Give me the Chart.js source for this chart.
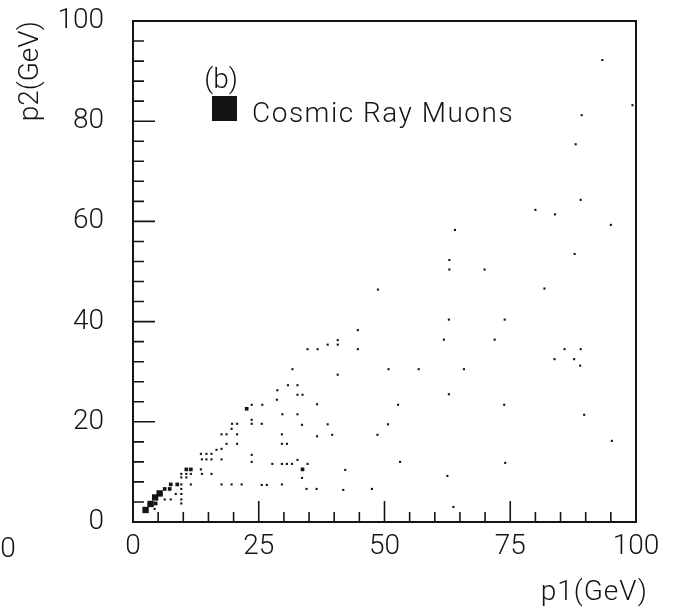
<!DOCTYPE html>
<html>
<head>
<meta charset="utf-8">
<script src="https://cdn.jsdelivr.net/npm/chart.js@4.4.1/dist/chart.umd.min.js"></script>
<style>
  html, body { margin: 0; padding: 0; background: #fff; }
  #wrap { width: 675px; height: 611px; }
</style>
</head>
<body>
<div id="wrap"><canvas id="muonChart"></canvas></div>
<script>
// p1 / p2 pairs, split by how heavy the box is
const heavyP1 = [2.5, 3.5, 4.4, 5.3];
const heavyP2 = [2.4, 3.6, 4.9, 5.7];

const mediumP1 = [3.3, 4.5, 6.3, 7.3, 7.5, 8.8, 10.6, 11.5, 22.6, 33.7];
const mediumP2 = [3.5, 3.7, 6.6, 6.6, 7.5, 7.5, 10.5, 10.5, 22.6, 10.5];

const lightP1 = [
  4.3, 6.3, 7.5, 9.6, 9.6, 8.5, 9.6, 9.6, 9.6, 11.5, 17.6, 19.6, 21.6, 25.6, 26.6, 29.6,
  34.5, 36.5, 33.6, 9.6, 10.6, 9.6, 10.6, 11.5, 13.7, 15.6, 13.5, 27.7, 29.6, 30.6, 31.6,
  32.7, 34.7, 23.6, 23.6, 13.7, 14.6, 15.6, 17.6, 13.5, 14.6, 15.6, 16.6, 17.6, 18.6, 20.7,
  29.6, 30.6, 17.6, 18.6, 20.7, 29.6, 36.6, 19.6, 19.7, 20.7, 23.6, 25.6, 33.6, 23.6, 29.7,
  32.7, 23.6, 25.7, 36.6, 28.6, 32.7, 33.7, 28.7, 30.8, 32.7, 31.7, 40.7, 34.7, 36.7, 38.7,
  40.7, 44.7, 40.7, 44.7, 52.7, 73.8, 38.7, 50.7, 39.6, 48.6, 62.8, 50.8, 56.8, 65.8, 83.8,
  87.7, 88.9, 85.8, 89.0, 61.8, 71.9, 62.8, 73.9, 48.7, 81.8, 62.9, 69.9, 62.9, 87.8, 64.0,
  95.0, 80.0, 83.9, 89.0, 88.0, 89.2, 99.3, 93.3, 89.7, 53.1, 62.5, 47.5, 42.2, 63.7, 95.2,
  74.0, 41.8
];
const lightP2 = [
  2.6, 4.5, 4.5, 4.5, 3.7, 5.6, 6.6, 5.6, 7.5, 7.5, 7.5, 7.5, 7.5, 7.4, 7.4, 7.5,
  6.6, 6.6, 8.8, 8.9, 8.9, 9.6, 9.6, 9.6, 9.6, 9.6, 10.5, 11.6, 11.6, 11.6, 11.6,
  12.4, 11.6, 13.4, 12.0, 12.5, 12.5, 12.5, 12.5, 13.6, 13.6, 13.6, 14.4, 14.6, 15.6, 15.6,
  15.6, 15.6, 17.5, 17.5, 17.5, 17.5, 17.1, 18.6, 19.6, 19.6, 19.6, 19.6, 19.4, 20.4, 21.5,
  21.5, 23.4, 23.4, 23.5, 24.4, 25.4, 25.4, 26.3, 27.3, 27.3, 30.5, 29.4, 34.5, 34.5, 35.4,
  35.4, 34.5, 36.3, 38.3, 23.4, 23.4, 19.5, 19.5, 17.4, 17.4, 25.5, 30.5, 30.5, 30.5, 32.5,
  32.5, 31.2, 34.5, 34.5, 36.4, 36.4, 40.4, 40.4, 46.4, 46.6, 50.4, 50.4, 52.3, 53.5, 58.3,
  59.3, 62.3, 61.4, 64.3, 75.4, 81.2, 83.2, 92.2, 21.4, 12.0, 9.2, 6.6, 10.4, 3.0, 16.2,
  11.8, 6.4
];

const xTickLabels = [0, 25, 50, 75, 100];
const yTickLabels = [0, 20, 40, 60, 80, 100];

const toPoints = (xs, ys) => xs.map((v, i) => ({ x: v, y: ys[i] }));

const FONT = 'Roboto, "Liberation Sans", sans-serif';
const INK = '#141414';

// frame, inward ticks and the hand-placed captions
const frameAndText = {
  id: 'frameAndText',
  afterDraw(chart) {
    const { ctx, chartArea: a, scales: { x, y } } = chart;
    ctx.save();
    ctx.strokeStyle = INK;
    ctx.lineWidth = 2;
    ctx.strokeRect(a.left, a.top, a.right - a.left, a.bottom - a.top);

    ctx.lineWidth = 1.6;
    ctx.beginPath();
    x.ticks.forEach(t => {
      const px = x.getPixelForValue(t.value);
      const len = xTickLabels.includes(t.value) ? 21 : 10;
      ctx.moveTo(px, a.bottom);
      ctx.lineTo(px, a.bottom - len);
    });
    y.ticks.forEach(t => {
      const py = y.getPixelForValue(t.value);
      const len = yTickLabels.includes(t.value) ? 22 : 11;
      ctx.moveTo(a.left, py);
      ctx.lineTo(a.left + len, py);
    });
    ctx.stroke();

    ctx.fillStyle = INK;
    ctx.font = '300 28px ' + FONT;
    ctx.textBaseline = 'alphabetic';

    // legend
    ctx.textAlign = 'center';
    ctx.fillText('(b)', 221, 88);
    ctx.fillRect(212, 96, 25, 25);
    ctx.textAlign = 'left';
    ctx.letterSpacing = '1.5px';
    ctx.fillText('Cosmic Ray Muons', 252, 122);

    // x title
    ctx.letterSpacing = '1px';
    ctx.textAlign = 'right';
    ctx.fillText('p1(GeV)', 648, 600);

    // stray label from the neighbouring panel
    ctx.letterSpacing = '0px';
    ctx.textAlign = 'center';
    ctx.fillText('0', 8, 557);
    ctx.restore();
  }
};

const ctx = document.getElementById('muonChart').getContext('2d');
const muonChart = new Chart(ctx, {
  type: 'scatter',
  data: {
    datasets: [
      {
        label: 'heavy',
        data: toPoints(heavyP1, heavyP2),
        backgroundColor: INK,
        borderWidth: 0,
        pointStyle: 'rect',
        pointRadius: 4.5
      },
      {
        label: 'medium',
        data: toPoints(mediumP1, mediumP2),
        backgroundColor: INK,
        borderWidth: 0,
        pointStyle: 'rect',
        pointRadius: 2.6
      },
      {
        label: 'light',
        data: toPoints(lightP1, lightP2),
        backgroundColor: INK,
        borderWidth: 0,
        pointStyle: 'rect',
        pointRadius: 1.5
      }
    ]
  },
  options: {
    responsive: true,
    maintainAspectRatio: false,
    animation: false,
    layout: { padding: { top: 21, right: 39, left: 0, bottom: 0 } },
    plugins: {
      legend: { display: false },
      tooltip: { enabled: false }
    },
    scales: {
      x: {
        type: 'linear',
        min: 0,
        max: 100,
        afterFit: s => { s.height = 89; s.paddingLeft = 0; s.paddingRight = 0; },
        grid: { display: false, drawTicks: false },
        border: { display: false },
        ticks: {
          stepSize: 5,
          autoSkip: false,
          maxRotation: 0,
          padding: 8,
          color: INK,
          font: { family: FONT, size: 28, weight: 300 },
          callback: v => xTickLabels.includes(v) ? String(v) : ''
        }
      },
      y: {
        type: 'linear',
        min: 0,
        max: 100,
        afterFit: s => { s.width = 133; s.paddingTop = 0; s.paddingBottom = 0; },
        grid: { display: false, drawTicks: false },
        border: { display: false },
        ticks: {
          stepSize: 4,
          autoSkip: false,
          padding: 29,
          color: INK,
          font: { family: FONT, size: 28, weight: 300 },
          callback: v => yTickLabels.includes(v) ? String(v) : ''
        },
        title: {
          display: true,
          text: 'p2(GeV)',
          align: 'end',
          color: INK,
          padding: { top: 14, bottom: 0 },
          font: { family: FONT, size: 28, weight: 300 }
        }
      }
    }
  },
  plugins: [frameAndText]
});
</script>
</body>
</html>
